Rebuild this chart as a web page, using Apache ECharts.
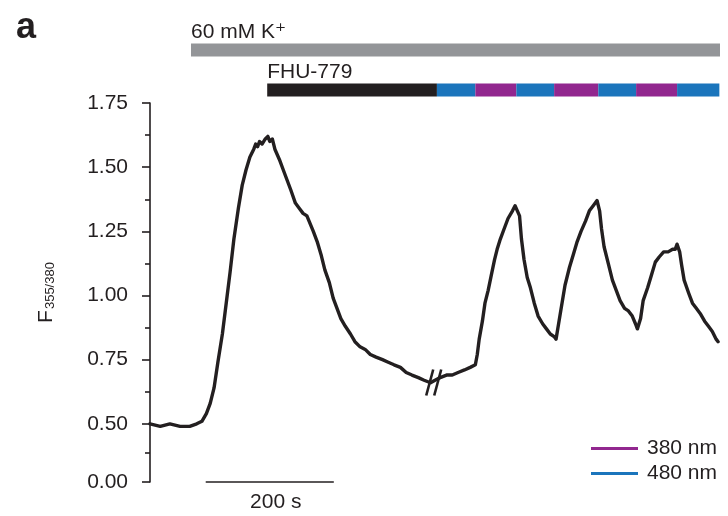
<!DOCTYPE html>
<html><head><meta charset="utf-8">
<script src="https://cdn.jsdelivr.net/npm/echarts@6/dist/echarts.min.js"></script>
<style>html,body{margin:0;padding:0;background:#fff}#c{width:728px;height:516px}</style>
</head><body><div id="c"></div>
<script>
// ---- data ----
const timeS = [0,16,31,47,62,73,81,88,94,100,106,113,119,125,131,138,144,150,156,162,165,168,171,175,180,184,187,191,195,202,208,214,220,227,233,239,245,250,255,261,267,273,280,286,292,298,305,313,320,328,336,344,353,363,372,381,391,400,409,419,428,438,445,453,463,472,481,491,500,508,511,514,519,523,528,533,538,542,547,553,559,566,570,573,577,580,584,589,594,600,606,613,619,625,631,634,638,642,648,655,661,667,673,680,686,692,698,702,705,709,716,722,728,734,741,747,753,758,761,766,770,777,783,789,795,802,809,816,820,823,827,830,834,841,847,853,859,866,872,878,884,887];
const ratio = [0.50,0.49,0.50,0.49,0.49,0.50,0.51,0.54,0.58,0.64,0.74,0.85,0.97,1.09,1.22,1.34,1.43,1.49,1.54,1.57,1.59,1.58,1.60,1.59,1.61,1.62,1.60,1.61,1.57,1.53,1.49,1.45,1.41,1.36,1.34,1.32,1.31,1.28,1.25,1.21,1.16,1.10,1.05,0.99,0.95,0.91,0.88,0.85,0.82,0.80,0.79,0.77,0.76,0.75,0.74,0.73,0.72,0.70,0.69,0.68,0.67,0.66,0.67,0.68,0.69,0.69,0.70,0.71,0.72,0.73,0.77,0.83,0.90,0.97,1.02,1.08,1.14,1.18,1.22,1.26,1.30,1.33,1.35,1.35,1.31,1.22,1.14,1.07,1.03,0.97,0.92,0.89,0.87,0.85,0.84,0.83,0.89,0.95,1.04,1.11,1.16,1.21,1.25,1.29,1.33,1.35,1.37,1.33,1.26,1.19,1.12,1.06,1.02,0.98,0.95,0.94,0.92,0.89,0.87,0.91,0.98,1.03,1.08,1.13,1.15,1.17,1.17,1.18,1.18,1.20,1.17,1.12,1.06,1.01,0.97,0.95,0.93,0.90,0.88,0.86,0.83,0.82];

const yTickValues = [0.50, 0.75, 1.00, 1.25, 1.50, 1.75];
const yBreakValue = 0.2734;      // bottom of broken axis, labelled 0.00
const yBreakLabel = '0.00';
const yMinorValues = [0.387, 0.625, 0.875, 1.125, 1.375, 1.625];
const timeMax = 890;

const breakTime = 443;
const breakRatio = 0.661;

const scaleBarStart = 87;
const scaleBarLength = 200;
const scaleBarLabel = '200 s';

const treatmentRows = ['60 mM K\u207A', 'FHU-779'];
const segStart = [64, 183, 448, 508, 572, 631, 700, 759, 823];
const segEnd   = [890, 448, 508, 572, 631, 700, 759, 823, 889];
const segRow   = [0, 1, 1, 1, 1, 1, 1, 1, 1];
const segKind  = ['K', 'FHU', '480', '380', '480', '380', '480', '380', '480'];

const legendNames = ['380 nm', '480 nm'];

// ---- styles ----
const INK = '#231f20';
const FONT = '"Liberation Sans", Arial, Helvetica, "DejaVu Sans", sans-serif';
const FS = 21;
const kindColor = { K: '#939598', FHU: '#231f20', '380': '#92278f', '480': '#1b75bc' };

const chart = echarts.init(document.getElementById('c'), null, { renderer: 'canvas' });

const option = {
  animation: false,
  backgroundColor: '#fff',
  textStyle: { fontFamily: FONT },
  title: { text: 'a', left: 11, top: 5, textStyle: { fontSize: 36, fontWeight: 'bold', color: INK, fontFamily: FONT } },
  legend: {
    data: legendNames,
    orient: 'vertical',
    left: 586, top: 433,
    icon: 'rect', itemWidth: 47, itemHeight: 3, itemGap: 4,
    textStyle: { fontSize: FS, color: INK, fontFamily: FONT, padding: [0, 0, 0, 4] },
    selectedMode: false
  },
  grid: [
    { left: 150, right: 8, top: 103, bottom: 34 },
    { left: 150, right: 8, top: 30, height: 80 }
  ],
  xAxis: [
    { type: 'value', gridIndex: 0, min: 0, max: timeMax, show: false },
    { type: 'value', gridIndex: 1, min: 0, max: timeMax, show: false }
  ],
  yAxis: [
    {
      type: 'value', gridIndex: 0, min: yBreakValue, max: 1.75, position: 'left',
      name: 'F{sub|355/380}', nameLocation: 'middle', nameRotate: 90, nameGap: 93,
      nameTextStyle: { fontSize: 21, color: INK, fontFamily: FONT, rich: { sub: { fontSize: 13, color: INK, fontFamily: FONT, verticalAlign: 'bottom', padding: [8, 0, 0, 1] } } },
      axisLine: { show: true, lineStyle: { color: INK, width: 1.6 } },
      axisTick: { show: true, inside: false, length: 8, customValues: [yBreakValue].concat(yTickValues), lineStyle: { color: INK, width: 1.6 } },
      axisLabel: {
        show: true, margin: 22, fontSize: FS, color: INK, fontFamily: FONT,
        customValues: [yBreakValue].concat(yTickValues),
        formatter: v => Math.abs(v - yBreakValue) < 1e-6 ? yBreakLabel : Number(v).toFixed(2)
      },
      splitLine: { show: false }
    },
    {
      type: 'value', gridIndex: 0, min: yBreakValue, max: 1.75, position: 'left',
      axisLine: { show: false },
      axisTick: { show: true, length: 5, customValues: yMinorValues, lineStyle: { color: INK, width: 1.6 } },
      axisLabel: { show: false },
      splitLine: { show: false }
    },
    { type: 'category', gridIndex: 1, data: treatmentRows, inverse: true, show: false }
  ],
  series: [
    {
      name: 'trace', type: 'line', xAxisIndex: 0, yAxisIndex: 0,
      data: timeS.map((t, i) => [t, ratio[i]]),
      showSymbol: false, symbol: 'none', smooth: false,
      lineStyle: { color: INK, width: 3.4, join: 'round', cap: 'round' },
      silent: true, z: 3
    },
    {
      name: 'break', type: 'custom', xAxisIndex: 0, yAxisIndex: 0,
      data: [[breakTime, breakRatio]], silent: true, z: 4,
      renderItem: (params, api) => {
        const p = api.coord([api.value(0), api.value(1)]);
        const st = { stroke: INK, lineWidth: 2.6 };
        return { type: 'group', children: [
          { type: 'line', shape: { x1: p[0] - 0.5, y1: p[1] - 13, x2: p[0] - 7.5, y2: p[1] + 13 }, style: st },
          { type: 'line', shape: { x1: p[0] + 7.5, y1: p[1] - 13, x2: p[0] + 0.5, y2: p[1] + 13 }, style: st }
        ] };
      }
    },
    {
      name: 'scalebar', type: 'line', xAxisIndex: 0, yAxisIndex: 0,
      data: [[scaleBarStart, yBreakValue], [scaleBarStart + scaleBarLength, yBreakValue]],
      symbol: 'none', lineStyle: { color: INK, width: 1.5 }, clip: false, silent: true
    },
    {
      name: 'scalebarLabel', type: 'scatter', xAxisIndex: 0, yAxisIndex: 0,
      data: [[scaleBarStart + scaleBarLength / 2, yBreakValue]], symbolSize: 0, clip: false, silent: true,
      itemStyle: { opacity: 1, color: INK },
      label: { show: true, formatter: scaleBarLabel, position: 'bottom', distance: 10, offset: [6, 0], fontSize: FS, color: INK, fontFamily: FONT }
    },
    {
      name: 'treatments', type: 'custom', xAxisIndex: 1, yAxisIndex: 2,
      data: segStart.map((s, i) => [s, segEnd[i], segRow[i]]),
      encode: { x: [0, 1], y: 2 }, silent: true,
      renderItem: (params, api) => {
        const idx = params.dataIndex;
        const s = api.coord([api.value(0), api.value(2)]);
        const e = api.coord([api.value(1), api.value(2)]);
        const h = 13;
        const children = [{
          type: 'rect',
          shape: { x: s[0], y: s[1] - h / 2, width: e[0] - s[0], height: h },
          style: { fill: kindColor[segKind[idx]] }
        }];
        if (segRow.indexOf(segRow[idx]) === idx) {
          children.push({
            type: 'text', x: s[0], y: s[1] - h / 2 - 1,
            style: { text: treatmentRows[segRow[idx]], fill: INK, fontSize: FS, fontFamily: FONT, align: 'left', verticalAlign: 'bottom' }
          });
        }
        return { type: 'group', children };
      }
    },
    { name: legendNames[0], type: 'line', data: [], color: kindColor['380'] },
    { name: legendNames[1], type: 'line', data: [], color: kindColor['480'] }
  ]
};
chart.setOption(option);
</script>
</body></html>
